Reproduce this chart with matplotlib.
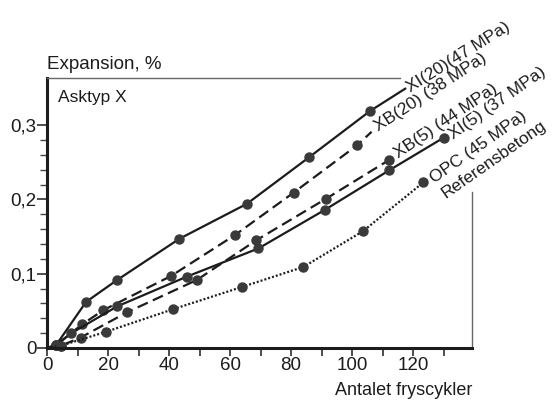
"""
Expansion vs number of freeze cycles, ash type X
"""
import matplotlib
matplotlib.use("Agg")
import matplotlib.pyplot as plt
from matplotlib.ticker import FixedLocator, FixedFormatter

plt.rcParams['font.family'] = ['Liberation Sans', 'DejaVu Sans']

# Data (x = freeze cycles, y = expansion %)
xi20_x = [0, 3, 12.8, 22.8, 43.4, 65.5, 86.0, 105.9, 117.4]
xi20_y = [0, 0.004, 0.062, 0.091, 0.147, 0.194, 0.257, 0.319, 0.349]

xb20_x = [0, 3, 11.6, 18.5, 40.7, 61.6, 80.8, 101.7, 106.4]
xb20_y = [0, 0.004, 0.032, 0.051, 0.097, 0.152, 0.209, 0.273, 0.291]

xb5_x = [0, 4.5, 11.0, 26.2, 49.1, 68.6, 91.5, 112.1]
xb5_y = [0, 0.003, 0.014, 0.048, 0.0915, 0.145, 0.201, 0.253]

xi5_x = [0, 3, 8.0, 23.0, 45.8, 69.3, 91.1, 112.1, 130.0]
xi5_y = [0, 0.004, 0.020, 0.056, 0.096, 0.134, 0.186, 0.239, 0.283]

opc_x = [0, 4.5, 19.5, 41.2, 63.8, 84.0, 103.5, 123.4]
opc_y = [0, 0.003, 0.022, 0.052, 0.082, 0.109, 0.157, 0.223]

x_ticks = [0, 20, 40, 60, 80, 100, 120]
x_minor = [10, 30, 50, 70, 90, 110, 130]
y_ticks = [0, 0.1, 0.2, 0.3]
y_labels = ['0', '0,1', '0,2', '0,3']
y_minor = [0.02, 0.04, 0.06, 0.08, 0.12, 0.14, 0.16, 0.18, 0.22, 0.24, 0.26, 0.28]

ink = '#1c1c1c'
dot = '#3a3a3a'

fig = plt.figure(figsize=(5.53, 4.01), dpi=100)
ax = fig.add_axes([0.085, 0.1322, 0.7685, 0.6733])

def draw(x, y, dashes, marker_last):
    n = len(x) if marker_last else len(x) - 1
    line, = ax.plot(x, y, color=ink, lw=1.6, marker='o', ms=6.5,
                    mfc=dot, mec=dot, markevery=list(range(1, n)))
    if dashes is not None:
        line.set_dashes(dashes)
    line.set_clip_on(False)

draw(xi20_x, xi20_y, None, False)
draw(xb20_x, xb20_y, (5, 2.5), False)
draw(xb5_x, xb5_y, (5, 2.5), True)
draw(xi5_x, xi5_y, None, True)
draw(opc_x, opc_y, (0.9, 0.9), True)

# Labels at the end of each curve
lab = dict(rotation_mode='anchor', ha='left', va='center',
           fontsize=12.5, color=ink, textcoords='offset points')
ax.annotate('XI(20)(47 MPa)', xy=(xi20_x[-1], xi20_y[-1]), xytext=(2, 0),
            rotation=32, **lab)
ax.annotate('XB(20) (38 MPa)', xy=(xb20_x[-1], xb20_y[-1]), xytext=(3, 3),
            rotation=33, **lab)
ax.annotate('XB(5) (44 MPa)', xy=(xb5_x[-1], xb5_y[-1]), xytext=(5, 4),
            rotation=34, **lab)
ax.annotate('XI(5) (37 MPa)', xy=(xi5_x[-1], xi5_y[-1]), xytext=(5, 1),
            rotation=35, **lab)
ax.annotate('OPC (45 MPa)', xy=(opc_x[-1], opc_y[-1]), xytext=(6, 2),
            rotation=35, **lab)
ax.annotate('Referensbetong', xy=(opc_x[-1], opc_y[-1]), xytext=(14, -9),
            rotation=35, **lab)

ax.set_xlim(0, 139.3)
ax.set_ylim(0, 0.3634)

ax.xaxis.set_major_locator(FixedLocator(x_ticks))
ax.xaxis.set_minor_locator(FixedLocator(x_minor))
ax.yaxis.set_major_locator(FixedLocator(y_ticks))
ax.yaxis.set_major_formatter(FixedFormatter(y_labels))
ax.yaxis.set_minor_locator(FixedLocator(y_minor))

ax.tick_params(axis='x', which='both', direction='out', length=6, width=1.1,
               color=ink, labelsize=13.5, labelcolor=ink, pad=0.5)
ax.tick_params(axis='y', which='major', direction='out', length=7, width=1.1,
               color=ink, labelsize=13.5, labelcolor=ink, pad=0.5)
ax.tick_params(axis='y', which='minor', direction='out', length=5, width=1.0,
               color='#444444')

for s in ['left', 'bottom']:
    ax.spines[s].set_linewidth(2.2)
    ax.spines[s].set_color(ink)
for s in ['top', 'right']:
    ax.spines[s].set_linewidth(1.0)
    ax.spines[s].set_color('#666666')
ax.spines['top'].set_bounds(0, 115.7)
ax.spines['right'].set_bounds(0, 0.21)

ax.text(0, 1.02, 'Expansion, %', transform=ax.transAxes, fontsize=13.5,
        color=ink, ha='left', va='bottom')
ax.text(0.025, 0.955, 'Asktyp X', transform=ax.transAxes, fontsize=12.5,
        color=ink, ha='left', va='top')
ax.text(1.0, -0.125, 'Antalet fryscykler', transform=ax.transAxes,
        fontsize=13, color=ink, ha='right', va='top')

fig.savefig('out.png', dpi=100)
